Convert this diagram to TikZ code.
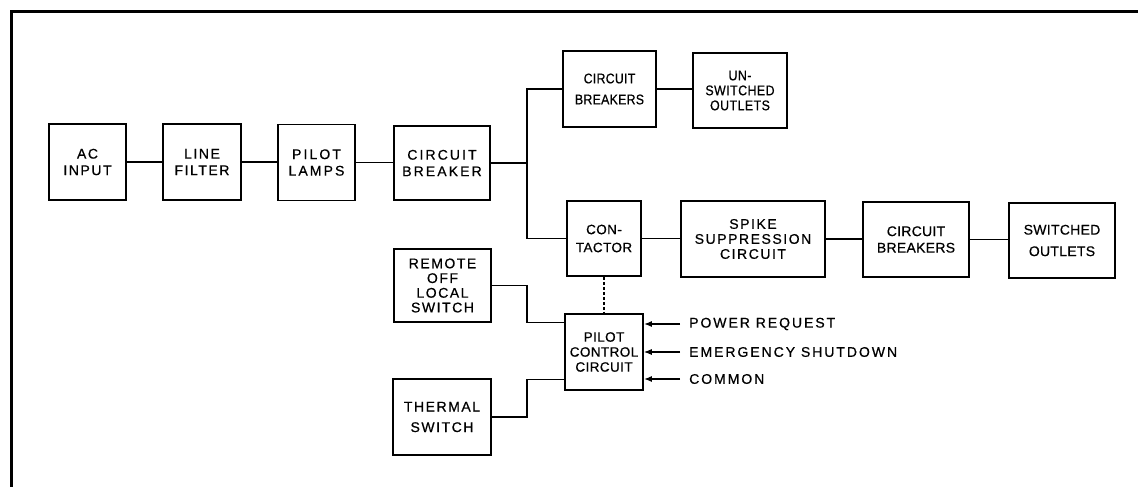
\documentclass[tikz,border=0pt]{standalone}
\usepackage{fontspec}
\setmainfont{Liberation Sans}[FakeBold=0.6,LetterSpace=11]
\newfontfamily\fNarA{Liberation Sans}[FakeBold=0.6,FakeStretch=0.88,LetterSpace=2]
\newfontfamily\fNarB{Liberation Sans}[FakeBold=0.6,FakeStretch=0.88,LetterSpace=3.5]
\newfontfamily\fTight{Liberation Sans}[FakeBold=0.6,LetterSpace=2]
\newfontfamily\fCon{Liberation Sans}[FakeBold=0.6,LetterSpace=3]
\newfontfamily\fWide{Liberation Sans}[FakeBold=0.6,LetterSpace=15]
\newfontfamily\fLbl{Liberation Sans}[FakeBold=0.6,LetterSpace=14]
\usetikzlibrary{arrows.meta}
\begin{document}
\begin{tikzpicture}[x=1pt,y=-1pt,
  blk/.style={draw,line width=1.6pt,minimum height=76pt,inner sep=0pt,align=center,
    font=\fontsize{14}{16.5}\selectfont},
  wire/.style={line width=1.1pt},
  arr/.style={wire,-{Latex[length=8pt,width=6pt]}},
  lbl/.style={anchor=west,inner ysep=0pt,inner xsep=9pt,font=\fLbl\fontsize{14}{16}\selectfont}]
\useasboundingbox (0,0) rectangle (1138,487);
\draw[line width=3pt] (11,487) -- (11,12) -- (1138,12);

\node[blk,minimum width=77pt] (ac) at (87.5,162) {AC\\INPUT};
\node[blk,minimum width=78pt] (lf) at (202,162) {LINE\\FILTER};
\node[blk,minimum width=77pt,font=\fWide\fontsize{14}{16.5}\selectfont] (pl) at (316.5,162.5) {PILOT\\LAMPS};
\node[blk,minimum width=96pt,minimum height=74pt,font=\fWide\fontsize{14}{16.5}\selectfont] (cb) at (442,163) {CIRCUIT\\BREAKER};
\node[blk,minimum width=93pt,font=\fNarA\fontsize{14}{16}\selectfont] (cbu) at (609.5,89) {CIRCUIT\\[5pt]BREAKERS};
\node[blk,minimum width=94pt,minimum height=75pt,font=\fNarB\fontsize{14}{15}\selectfont] (uo) at (740,90.5) {UN-\\SWITCHED\\OUTLETS};
\node[blk,minimum width=74pt,minimum height=75pt,font=\fCon\fontsize{13.5}{16}\selectfont] (con) at (604,238.5) {CON-\\[2pt]TACTOR};
\node[blk,minimum width=144pt,font=\fontsize{14}{15}\selectfont] (spk) at (753,239) {SPIKE\\SUPPRESSION\\CIRCUIT};
\node[blk,minimum width=106pt,minimum height=75pt,font=\fTight\fontsize{14}{16.5}\selectfont] (cbl) at (916,239.5) {CIRCUIT\\BREAKERS};
\node[blk,minimum width=106pt,minimum height=75pt,font=\fTight\fontsize{14}{16.5}\selectfont] (so) at (1062,240.5) {SWITCHED\\[5pt]OUTLETS};
\node[blk,minimum width=97pt,minimum height=73pt,font=\fontsize{14}{14.7}\selectfont] (rem) at (442.5,285.5) {REMOTE\\OFF\\LOCAL\\SWITCH};
\node[blk,minimum width=78pt,font=\fCon\fontsize{13.5}{15}\selectfont] (pcc) at (604,352) {PILOT\\CONTROL\\CIRCUIT};
\node[blk,minimum width=98pt] (th) at (442,417) {THERMAL\\[4pt]SWITCH};

\draw[wire] (ac.east) -- (ac.east -| lf.west);
\draw[wire] (lf.east) -- (lf.east -| pl.west);
\draw[wire,line width=1.5pt] (pl.east) -- (pl.east -| cb.west);
\coordinate (j) at (527,163);
\draw[wire] (cb.east) -- (j);
\draw[wire,line width=1.5pt] (cbu.west) -| (j) |- (con.west);
\draw[wire] (cbu.east) -- (cbu.east -| uo.west);
\draw[wire] (con.east) -- (con.east -| spk.west);
\draw[wire] (spk.east) -- (spk.east -| cbl.west);
\draw[wire,line width=1.6pt] (cbl.east) -- (cbl.east -| so.west);
\draw[wire,densely dashed] (con.south) -- (pcc.north);

\coordinate (pin1) at ([yshift=-9pt]pcc.north west);
\coordinate (pin2) at ([yshift=11pt]pcc.south west);
\draw[wire] (rem.east) -| (j |- pin1) -- (pin1);
\draw[wire] (th.east) -| (j |- pin2) -- (pin2);

\node[lbl] (pr) at (680,324) {POWER REQUEST};
\node[lbl] (es) at (680,352) {EMERGENCY SHUTDOWN};
\node[lbl] (cm) at (680,379) {COMMON};
\draw[arr,line width=1.5pt] (pr.west) -- (pr.west -| pcc.east);
\draw[arr] (es.west) -- (es.west -| pcc.east);
\draw[arr,line width=1.5pt] (cm.west) -- (cm.west -| pcc.east);
\end{tikzpicture}
\end{document}
